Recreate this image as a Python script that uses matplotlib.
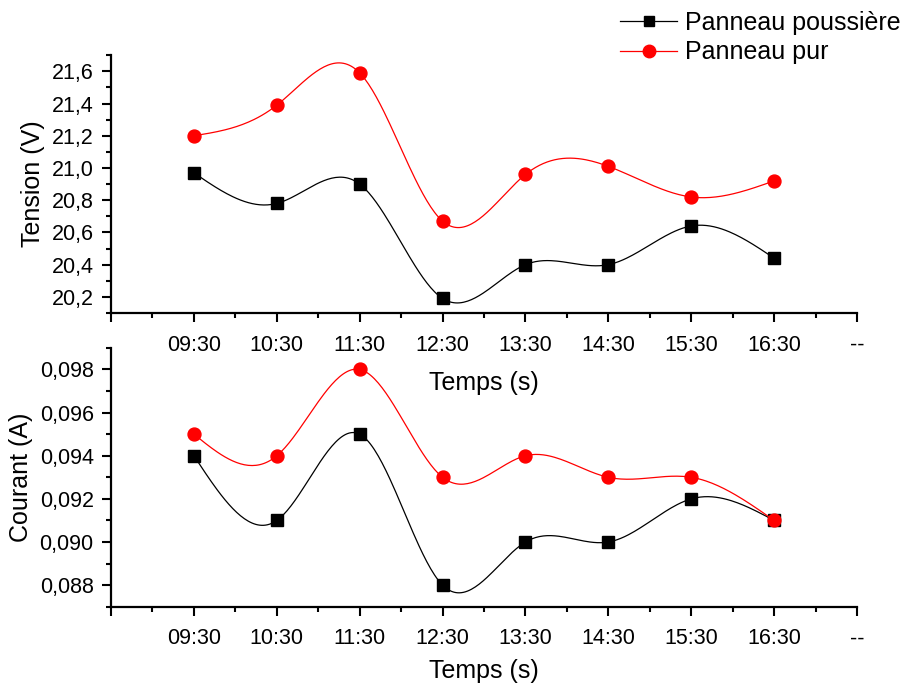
import numpy as np
import matplotlib.pyplot as plt
from matplotlib.ticker import FuncFormatter, MultipleLocator

plt.rcParams['font.family'] = ['Liberation Sans', 'DejaVu Sans']

# categories on x axis (0 and 9 are the empty end ticks)
heures = ['09:30', '10:30', '11:30', '12:30', '13:30', '14:30', '15:30', '16:30']
tick_labels = [''] + heures + ['--']

# tension (V)
tension_pouss = [20.97, 20.78, 20.90, 20.19, 20.40, 20.40, 20.64, 20.44]
tension_pur = [21.20, 21.39, 21.59, 20.67, 20.96, 21.01, 20.82, 20.92]

# courant (A)
courant_pouss = [0.094, 0.091, 0.095, 0.088, 0.090, 0.090, 0.092, 0.091]
courant_pur = [0.095, 0.094, 0.098, 0.093, 0.094, 0.093, 0.093, 0.091]


def spline(x, y, n=300):
    # natural cubic spline through the points (like Origin "Spline" connect)
    x = np.asarray(x, float)
    y = np.asarray(y, float)
    k = len(x)
    h = np.diff(x)
    A = np.zeros((k, k))
    b = np.zeros(k)
    A[0, 0] = A[-1, -1] = 1
    for i in range(1, k - 1):
        A[i, i - 1] = h[i - 1]
        A[i, i] = 2 * (h[i - 1] + h[i])
        A[i, i + 1] = h[i]
        b[i] = 3 * ((y[i + 1] - y[i]) / h[i] - (y[i] - y[i - 1]) / h[i - 1])
    c = np.linalg.solve(A, b)
    xs = np.linspace(x[0], x[-1], n)
    idx = np.clip(np.searchsorted(x, xs) - 1, 0, k - 2)
    dx = xs - x[idx]
    bb = (y[idx + 1] - y[idx]) / h[idx] - h[idx] * (2 * c[idx] + c[idx + 1]) / 3
    d = (c[idx + 1] - c[idx]) / (3 * h[idx])
    ys = y[idx] + bb * dx + c[idx] * dx ** 2 + d * dx ** 3
    return xs, ys


fig = plt.figure(figsize=(9.05, 6.9), dpi=100)
ax1 = fig.add_axes([0.1227, 0.5464, 0.8243, 0.3736])
ax2 = fig.add_axes([0.1227, 0.1207, 0.8243, 0.3751])
ax2.patch.set_visible(False)

xpos = np.arange(1, len(heures) + 1)


def draw(ax, y_pouss, y_pur):
    xs, ys = spline(xpos, y_pouss)
    ax.plot(xs, ys, color='black', lw=0.9)
    ax.plot(xpos, y_pouss, 's', color='black', ms=8.2)
    xs, ys = spline(xpos, y_pur)
    ax.plot(xs, ys, color='red', lw=0.9)
    ax.plot(xpos, y_pur, 'o', color='red', ms=9.3)
    ax.set_xlim(0, 9)
    ax.set_xticks(range(len(tick_labels)))
    ax.set_xticklabels(tick_labels)
    ax.xaxis.set_minor_locator(MultipleLocator(0.5))
    ax.spines['top'].set_visible(False)
    ax.spines['right'].set_visible(False)
    for s in ['left', 'bottom']:
        ax.spines[s].set_linewidth(1.6)
    ax.tick_params(which='major', direction='out', length=6.5, width=1.5,
                   labelsize=15.5, pad=6)
    ax.tick_params(axis='x', which='major', pad=9)
    ax.tick_params(which='minor', direction='out', length=3.5, width=1.5)


draw(ax1, tension_pouss, tension_pur)
ax1.set_ylim(20.1, 21.7)
ax1.yaxis.set_major_locator(MultipleLocator(0.2))
ax1.yaxis.set_minor_locator(MultipleLocator(0.1))
ax1.yaxis.set_major_formatter(FuncFormatter(lambda v, p: ('%.1f' % v).replace('.', ',')))
ax1.set_ylabel('Tension (V)', fontsize=18, labelpad=5)
ax1.set_xlabel('Temps (s)', fontsize=18, labelpad=11)

draw(ax2, courant_pouss, courant_pur)
ax2.set_ylim(0.087, 0.099)
ax2.yaxis.set_major_locator(MultipleLocator(0.002))
ax2.yaxis.set_minor_locator(MultipleLocator(0.001))
ax2.yaxis.set_major_formatter(FuncFormatter(lambda v, p: ('%.3f' % v).replace('.', ',')))
ax2.set_ylabel('Courant (A)', fontsize=18, labelpad=5)
ax2.set_xlabel('Temps (s)', fontsize=18, labelpad=7)

h1, = ax1.plot([], [], '-s', color='black', lw=0.9, ms=7.5)
h2, = ax1.plot([], [], '-o', color='red', lw=0.9, ms=9)
fig.legend([h1, h2], ['Panneau poussière', 'Panneau pur'], loc='upper left',
           bbox_to_anchor=(0.66, 1.017), frameon=False, fontsize=18,
           handlelength=2.3, handletextpad=0.3, labelspacing=0.22)

fig.savefig('out.png', dpi=100)
